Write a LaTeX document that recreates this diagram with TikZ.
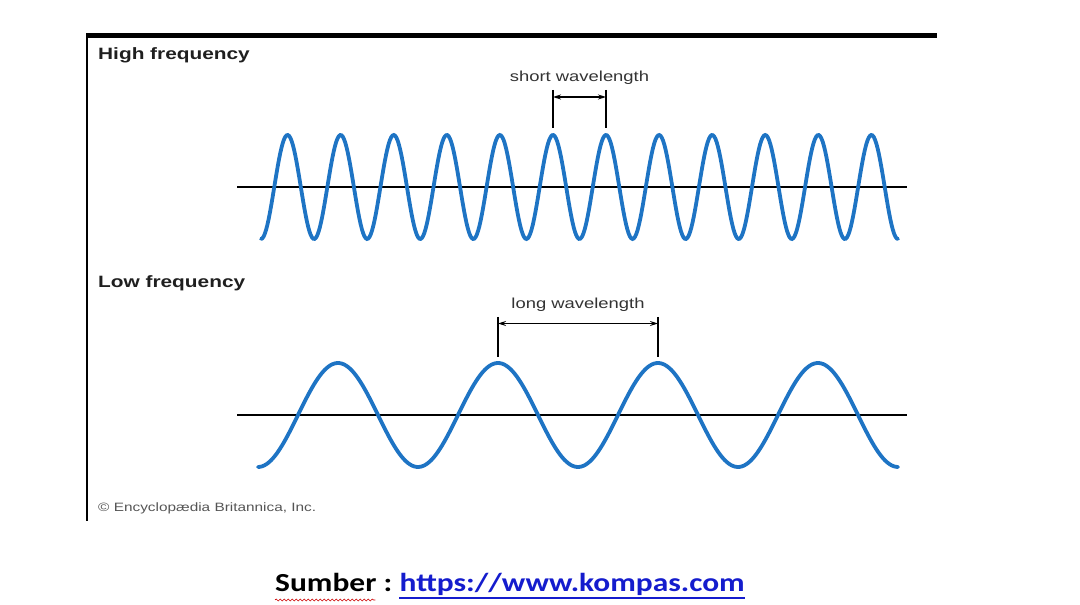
\documentclass[tikz,border=0pt]{standalone}
\usepackage{fontspec}
\setmainfont{Liberation Sans}
\newfontfamily\slidefont{Carlito}
\usetikzlibrary{arrows.meta, positioning, decorations.pathmorphing}

\definecolor{waveblue}{RGB}{30,116,196}
\definecolor{labelgray}{RGB}{51,51,51}
\definecolor{notegray}{RGB}{85,85,85}
\definecolor{linkblue}{RGB}{20,28,205}

% the source picture is stretched sideways
\newcommand{\stretchtxt}[1]{\scalebox{1.27}[1]{#1}}
\newcommand{\stretchsrc}[1]{\scalebox{1.21}[1]{#1}}

\begin{document}
\begin{tikzpicture}[x=1pt, y=1pt, >=Stealth,
  wave/.style={waveblue, line width=3.8pt, line cap=round},
  axis/.style={black, line width=2.4pt},
  marker/.style={black, line width=1.2pt},
  heading/.style={font=\fontsize{16.4}{18}\selectfont\bfseries, anchor=west,
                  inner sep=0pt, text=black!88},
  tag/.style={font=\fontsize{14.5}{16}\selectfont, inner sep=0pt, text=labelgray}]
  \useasboundingbox (0,0) rectangle (1080,605);

  % Frame
  \draw[line width=4.5pt] (86,569.5) -- (937,569.5);
  \draw[line width=1.4pt] (87,569) -- (87,84);

  % High frequency
  \node[heading] (hi) at (98,550) {\stretchtxt{High frequency}};
  \coordinate (hiL) at (237,418);
  \coordinate (hiR) at (907,418);
  \draw[axis] (hiL) -- (hiR);
  \draw[wave] plot[domain=261:898, samples=500]
    (\x, {418-52*cos((\x-261)/53.08*360)});

  % short wavelength marker
  \coordinate (s1) at (553,515);
  \coordinate (s1b) at (553,477);
  \coordinate (s2) at (606,515);
  \coordinate (s2b) at (606,477);
  \draw[marker] (s1) -- (s1b);
  \draw[marker] (s2) -- (s2b);
  \draw[marker, <->, >={Stealth[length=8pt, width=5pt]}]
    ([yshift=-7]s1) -- ([yshift=-7]s2);
  \node[tag] (short) at (579.5,527) {\stretchtxt{short wavelength}};

  % Low frequency
  \node[heading] (lo) at (98,322) {\stretchtxt{Low frequency}};
  \coordinate (loL) at (237,190);
  \coordinate (loR) at (907,190);
  \draw[axis] (loL) -- (loR);
  \draw[wave] plot[domain=258:898, samples=300]
    (\x, {190-52*cos((\x-258)/160*360)});

  % long wavelength marker
  \coordinate (l1) at (498,288);
  \coordinate (l1b) at (498,248);
  \coordinate (l2) at (658,288);
  \coordinate (l2b) at (658,248);
  \draw[marker] (l1) -- (l1b);
  \draw[marker] (l2) -- (l2b);
  \draw[marker, <->, >={Stealth[length=8pt, width=5pt]}]
    ([yshift=-6.5]l1) -- ([yshift=-6.5]l2);
  \node[tag] (long) at (578,300) {\stretchtxt{long wavelength}};

  % Credit line
  \node[anchor=west, inner sep=0pt, text=notegray,
        font=\fontsize{12.1}{14}\selectfont] (credit) at (98,97)
    {\stretchtxt{© Encyclopædia Britannica, Inc.}};

  % Source
  \node[anchor=base west, inner sep=0pt,
        font=\slidefont\fontsize{26}{30}\selectfont\bfseries] (src) at (275,13)
    {\stretchsrc{Sumber :}};
  \node[anchor=base west, inner sep=0pt, text=linkblue,
        font=\slidefont\fontsize{26}{30}\selectfont\bfseries] (url)
    at ([xshift=7]src.base east) {\stretchsrc{https://www.kompas.com}};
  \draw[linkblue, line width=1.6pt]
    ([yshift=-6]url.base west) -- ([yshift=-6]url.base east);
  \draw[red!80!black, line width=0.6pt,
        decorate, decoration={snake, amplitude=1pt, segment length=4pt}]
    ([yshift=-8]src.base west) -- ([yshift=-8, xshift=-17]src.base east);
\end{tikzpicture}
\end{document}
